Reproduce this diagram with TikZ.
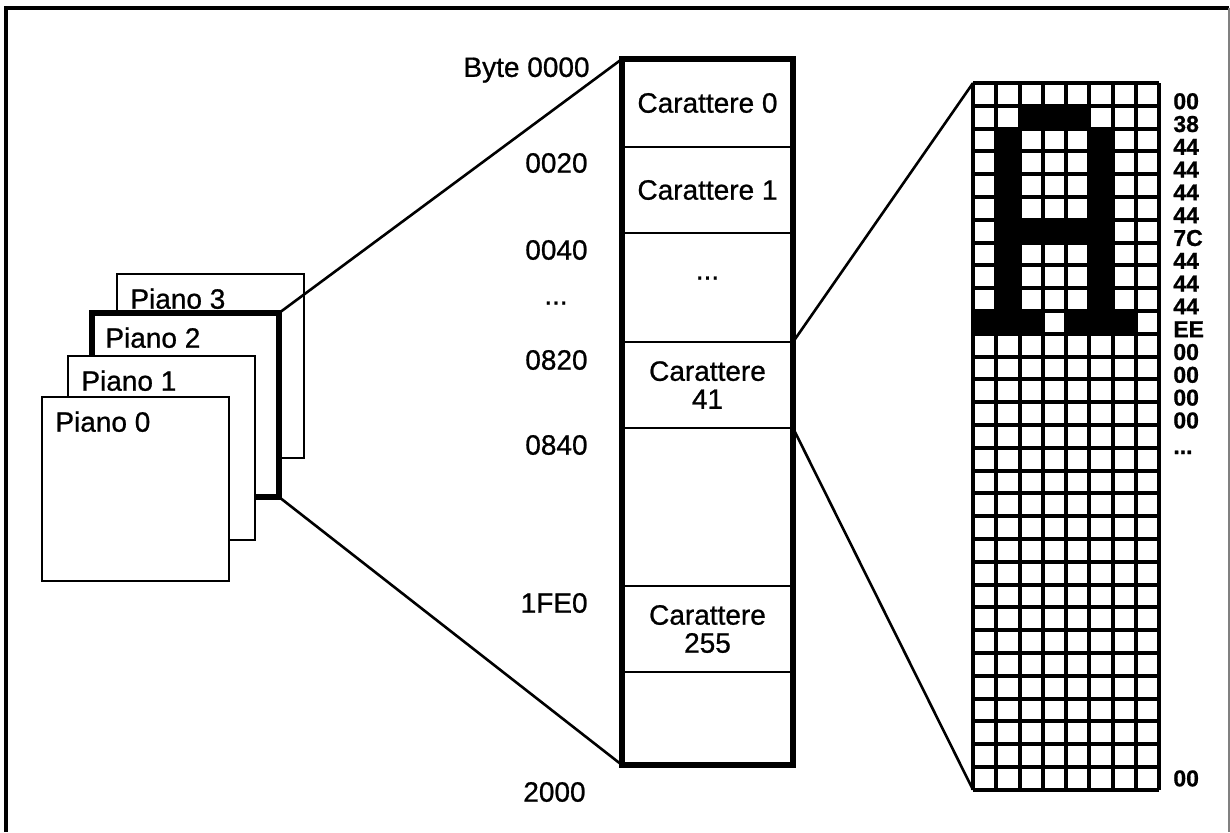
\documentclass[tikz,border=0pt]{standalone}
\usepackage{fontspec}
\setmainfont{Liberation Sans}[FakeBold=0.8]
\usetikzlibrary{positioning,calc}

\begin{document}
\begin{tikzpicture}[x=0.5pt, y=-0.5pt, font=\fontsize{14}{14}\selectfont,
  plane/.style={draw,fill=white,line width=1.3pt,minimum width=93.5pt,minimum height=92pt,
    anchor=north west,outer sep=0pt,inner sep=0pt},
  planelbl/.style={anchor=north west,inner sep=0pt,xshift=6.5pt,yshift=-7pt},
  cell/.style={draw,line width=1.3pt,minimum width=85.5pt,outer sep=0pt,inner sep=0pt,align=center},
  addr/.style={anchor=east,inner sep=0pt},
  hexlbl/.style={anchor=west,inner sep=0pt,font=\fontsize{11.5}{11.5}\selectfont\bfseries},
  gridl/.style={line width=2pt},
  link/.style={line width=1.3pt}]
  \useasboundingbox (0,0) rectangle (1230,832);
  % frame
  \draw[line width=1.6pt] (6,832) -- (6,8) -- (1229,8);
  \draw[gray,line width=0.6pt] (1229,8) -- (1229,832);
  % planes
  \node[plane] (p3) at (117,274) {};
  \node[planelbl] at (p3.north west) {Piano 3};
  \node[plane,line width=2.6pt] (p2) at (92,313) {};
  \node[planelbl] at (p2.north west) {Piano 2};
  \node[plane] (p1) at (68,356) {};
  \node[planelbl] at (p1.north west) {Piano 1};
  \node[plane] (p0) at (42,397) {};
  \node[planelbl] at (p0.north west) {Piano 0};
  % font memory
  \node[cell,anchor=north,minimum height=44pt] (c0) at (707.5,59) {Carattere 0};
  \node[cell,below=0pt of c0,minimum height=43pt] (c1) {Carattere 1};
  \node[cell,below=0pt of c1,minimum height=54.5pt] (c2) {};
  \node[cell,below=0pt of c2,minimum height=43pt] (c3) {Carattere\\41};
  \node[cell,below=0pt of c3,minimum height=79pt] (c4) {};
  \node[cell,below=0pt of c4,minimum height=43pt] (c5) {Carattere\\255};
  \node[cell,below=0pt of c5,minimum height=46.5pt] (c6) {};
  \node[inner sep=0pt] (dots) at ([yshift=4.75pt]c2.center) {...};
  \draw[line width=2.8pt] (c0.north west) rectangle (c6.south east);
  % addresses
  \node[addr] (a0) at (590,70) {Byte 0000};
  \node[addr] (a1) at (588,163) {0020};
  \node[addr] (a2) at (588,250) {0040};
  \node[inner sep=0pt] (a3) at (556,303) {...};
  \node[addr] (a4) at (588,360) {0820};
  \node[addr] (a5) at (588,445) {0840};
  \node[addr] (a6) at (588,603) {1FE0};
  \node[addr] (a7) at (586,792) {2000};
  % bitmap of one character
  \begin{scope}[shift={(973,83)},x=11.625pt,y=-11.4pt]
    \fill (2,1) rectangle (5,2);
    \fill (1,2) rectangle (2,10);
    \fill (5,2) rectangle (6,10);
    \fill (2,6) rectangle (5,7);
    \fill (0,10) rectangle (3,11);
    \fill (4,10) rectangle (7,11);
    \foreach \i in {0,...,8} \draw[gridl] (\i,0) -- (\i,31);
    \foreach \j in {0,...,31} \draw[gridl] (0,\j) -- (8,\j);
    \coordinate (gtl) at (0,0);
    \coordinate (gbl) at (0,31);
    \foreach \r/\t in {1/00,2/38,3/44,4/44,5/44,6/44,7/7C,8/44,9/44,10/44,11/EE,12/00,13/00,14/00,15/00}
      \node[hexlbl] at (8.6,\r-0.2) {\t};
    \node[hexlbl] at (8.6,16.2) {...};
    \node[hexlbl] at (8.6,30.5) {00};
  \end{scope}
  % zoom lines
  \draw[link] (p2.north east) -- (c0.north west);
  \draw[link] (p2.south east) -- (c6.south west);
  \draw[link] (c3.north east) -- (gtl);
  \draw[link] (c3.south east) -- (gbl);
\end{tikzpicture}
\end{document}
